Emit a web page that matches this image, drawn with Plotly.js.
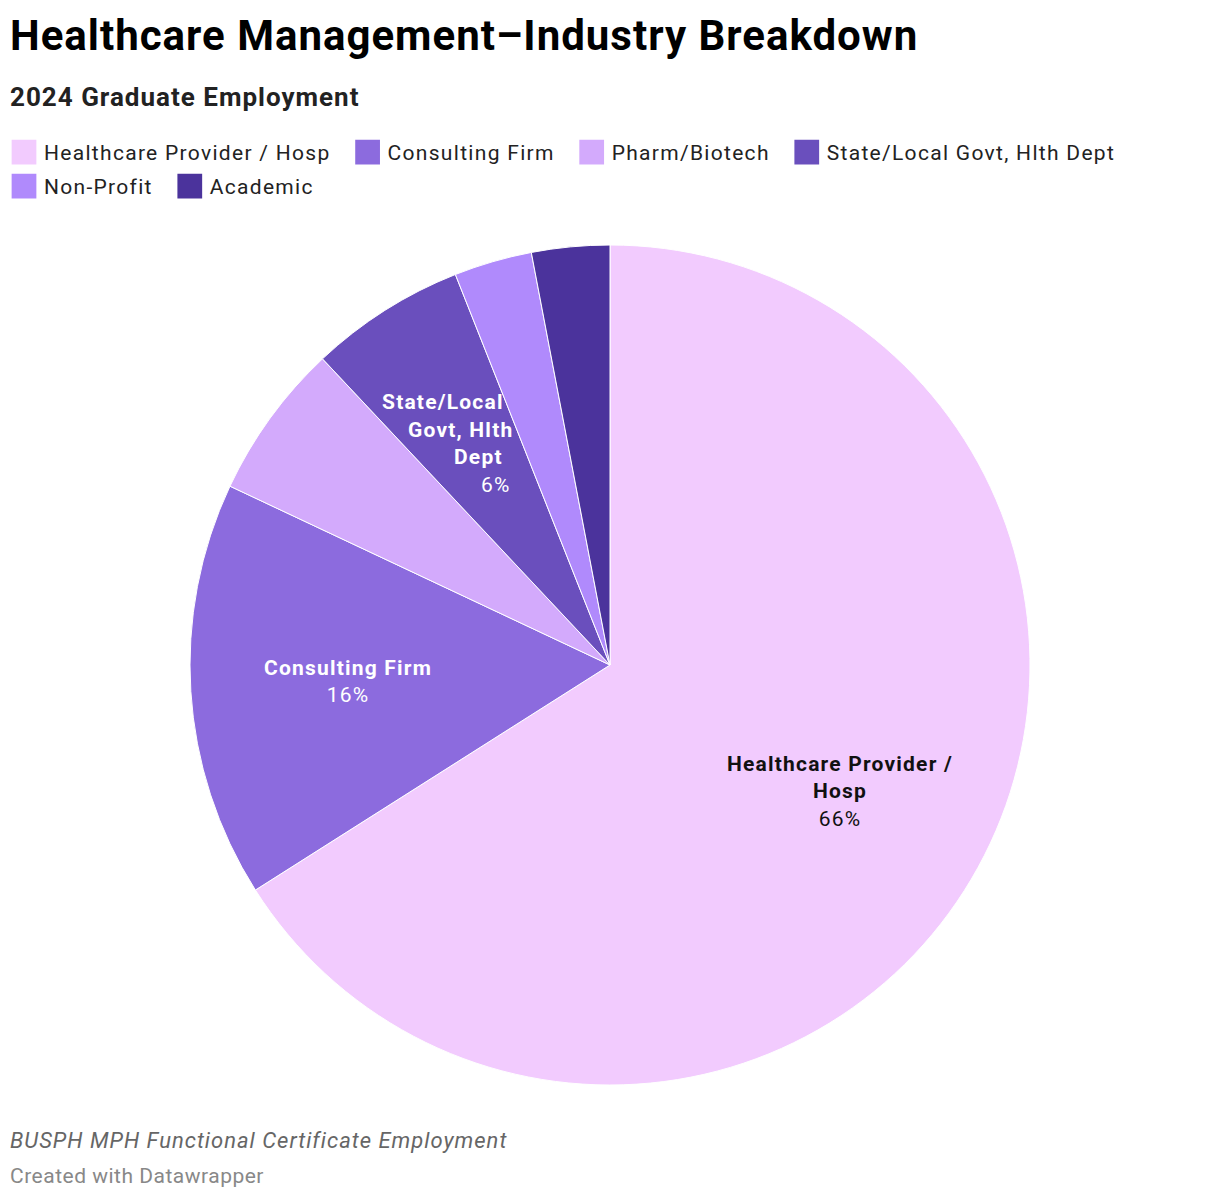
<!DOCTYPE html>
<html>
<head>
<meta charset="utf-8">
<script src="https://cdn.plot.ly/plotly-3.0.1.min.js"></script>
<style>
  html, body { margin: 0; padding: 0; background: #fff; }
  #chart { width: 1220px; height: 1200px; }
  .legendtext { letter-spacing: 1.3px; }
</style>
</head>
<body>
<div id="chart"></div>
<script>
const categories = ["Healthcare Provider / Hosp", "Consulting Firm", "Pharm/Biotech", "State/Local Govt, Hlth Dept", "Non-Profit", "Academic"];
const values = [66, 16, 6, 6, 3, 3];
const sliceLabels = [["Healthcare Provider /", "Hosp"], ["Consulting Firm"], [], ["State/Local", "Govt, Hlth", "Dept"], [], []];
const colors = ["#f2cbfe", "#8c6bde", "#d3aafc", "#6a4fbd", "#b08afc", "#4b339c"];
const labelColors = ["#111111", "#ffffff", "#ffffff", "#ffffff", "#ffffff", "#ffffff"];
// narrow slices: label lines follow the slice's mid-angle ray
const rayAligned = [false, false, false, true, false, false];

function sp(txt, ls) { return '<span style="letter-spacing:' + ls + 'px">' + txt + '</span>'; }

const trace = {
  type: "pie",
  labels: categories,
  values: values,
  sort: false,
  direction: "clockwise",
  rotation: 0,
  marker: { colors: colors, line: { color: "#ffffff", width: 1 } },
  textinfo: "none",
  hoverinfo: "none",
  domain: { x: [0, 1], y: [1 - 1085 / 1200, 1 - 245 / 1200] }
};

const W = 1220, H = 1200;

const layout = {
  width: W,
  height: H,
  margin: { l: 0, r: 0, t: 0, b: 0 },
  paper_bgcolor: "#ffffff",
  font: { family: "Roboto", color: "#222" },
  title: {
    text: sp("<b>Healthcare Management–Industry Breakdown</b>", 1),
    x: 10 / W, xanchor: "left", xref: "paper",
    y: 1 - 35 / H, yanchor: "middle", yref: "container",
    font: { family: "Roboto", size: 42, color: "#000" }
  },
  showlegend: true,
  legend: {
    orientation: "h",
    x: 0, xanchor: "left",
    y: 1 - 132 / H, yanchor: "top",
    font: { family: "Roboto", size: 21, color: "#222" },
    traceorder: "normal",
    itemclick: false, itemdoubleclick: false
  },
  annotations: [
    { text: sp("<b>2024 Graduate Employment</b>", 1), xref: "paper", yref: "paper", x: 8 / W, y: 1 - 97 / H, xanchor: "left", yanchor: "middle", showarrow: false, font: { family: "Roboto", size: 26, color: "#222" } },
    { text: sp("<i>BUSPH MPH Functional Certificate Employment</i>", 1), xref: "paper", yref: "paper", x: 8 / W, y: 1 - 1140 / H, xanchor: "left", yanchor: "middle", showarrow: false, font: { family: "Roboto", size: 22, color: "#666" } },
    { text: sp("Created with Datawrapper", 0.5), xref: "paper", yref: "paper", x: 8 / W, y: 1 - 1176 / H, xanchor: "left", yanchor: "middle", showarrow: false, font: { family: "Roboto", size: 21, color: "#888" } }
  ]
};

const gd = document.getElementById("chart");

Plotly.newPlot(gd, [trace], layout, { displayModeBar: false, staticPlot: true }).then(function () {
  // Slice labels placed along each slice's mid-angle using Plotly's own pie geometry
  const cd = gd.calcdata[0];
  const cd0 = cd[0];
  const total = values.reduce((a, b) => a + b, 0);
  const anns = layout.annotations.slice();
  const lineH = 27.6;
  cd.forEach(function (pt, k) {
    const i = pt.i !== undefined ? pt.i : k;
    const names = sliceLabels[i];
    if (!names || !names.length) return;
    const px = cd0.cx + 0.625 * pt.pxmid[0];
    const py = cd0.cy + 0.625 * pt.pxmid[1];
    const pct = Math.round(values[i] / total * 100) + "%";
    const lines = names.map(l => sp("<b>" + l + "</b>", 1.2)).concat([sp(pct, 1.2)]);
    const font = { family: "Roboto", size: 21, color: labelColors[i] };
    if (rayAligned[i]) {
      const n = lines.length;
      const slope = pt.pxmid[0] / pt.pxmid[1];
      lines.forEach(function (ln, j) {
        const yj = py + (j - (n - 1) / 2) * lineH;
        const xj = px + (yj - py) * slope;
        anns.push({ text: ln, xref: "paper", yref: "paper", x: xj / W, y: 1 - yj / H, xanchor: "center", yanchor: "middle", showarrow: false, font: font });
      });
    } else {
      anns.push({
        text: lines.join("<br>"), xref: "paper", yref: "paper",
        x: px / W, y: 1 - py / H, xanchor: "center", yanchor: "middle", align: "center",
        showarrow: false, font: font
      });
    }
  });
  return Plotly.relayout(gd, { annotations: anns });
}).then(function () {
  // Flow legend entries by their own text width, with larger swatches
  const leg = gd.querySelector(".legend");
  if (!leg) return;
  leg.querySelectorAll("[clip-path]").forEach(e => e.removeAttribute("clip-path"));
  const items = Array.from(leg.querySelectorAll("g.traces"));
  if (!items.length) return;
  const m = /translate\(\s*([-\d.]+)[ ,]+([-\d.]+)/.exec(items[0].getAttribute("transform") || "");
  const x0 = (m ? parseFloat(m[1]) : 0) + 4, y0 = m ? parseFloat(m[2]) : 0;
  const rowH = 34, maxW = 1200;
  let x = 0, y = 0;
  items.forEach(function (it) {
    const t = it.querySelector(".legendtext");
    const w = t ? t.getBBox().width : 100;
    const itemW = 40 + w;
    if (x > 0 && x + itemW > maxW) { x = 0; y += rowH; }
    it.setAttribute("transform", "translate(" + (x0 + x) + "," + (y0 + y) + ")");
    x += itemW + 17;
  });
  leg.querySelectorAll(".legendpoints path").forEach(function (p) {
    const old = p.getAttribute("transform") || "";
    p.setAttribute("transform", old + " scale(2.25)");
  });
});
</script>
</body>
</html>
